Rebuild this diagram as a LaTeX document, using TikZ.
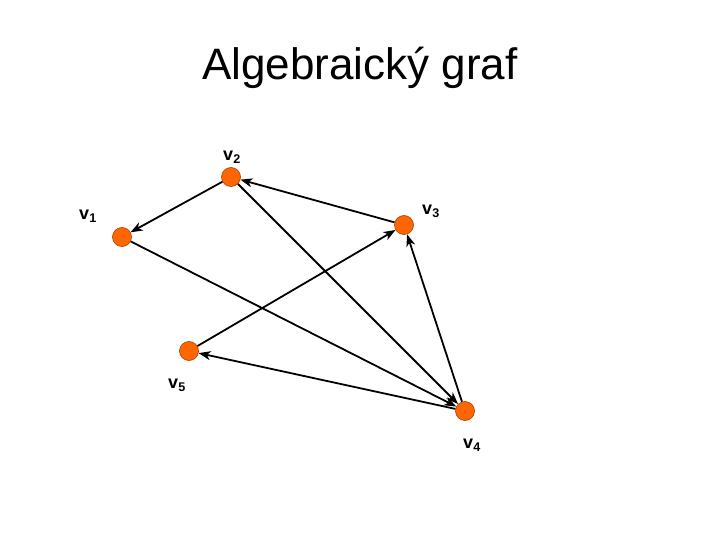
\documentclass[tikz,border=0pt]{standalone}
\usepackage{fontspec}
\setmainfont{Liberation Sans}
\usepackage{tikz}
\usetikzlibrary{arrows.meta}
\definecolor{vxorange}{RGB}{255,102,0}
\definecolor{vxedge}{RGB}{170,60,0}

\begin{document}
\begin{tikzpicture}[x=1pt, y=-1pt,
    vertex/.style={circle, draw=vxedge, fill=vxorange, line width=0.6pt,
                 minimum size=19pt, inner sep=0pt},
    vlabel/.style={font=\fontsize{18}{20}\selectfont\bfseries, inner sep=0pt},
    arr/.style={-{Stealth[length=12pt, width=9pt, inset=3.5pt]}, line width=1.8pt, black}
]
    \useasboundingbox (0,0) rectangle (720,540);
    \node[font=\fontsize{44}{50}\selectfont] (title) at (360,68) {Algebraický graf};

    \node[vertex] (v1) at (122,237) {};
    \node[vertex] (v2) at (231,177) {};
    \node[vertex] (v3) at (404,225) {};
    \node[vertex] (v4) at (465,411) {};
    \node[vertex] (v5) at (189,351) {};

    \node[vlabel] (l1) at (88,216) {v\textsubscript{1}};
    \node[vlabel] (l2) at (232,157) {v\textsubscript{2}};
    \node[vlabel] (l3) at (431,211) {v\textsubscript{3}};
    \node[vlabel] (l4) at (472,445) {v\textsubscript{4}};
    \node[vlabel] (l5) at (177,385) {v\textsubscript{5}};

    \draw[arr] (v3) -- (v2);
    \draw[arr] (v2) -- (v1);
    \draw[arr] (v1) -- (v4);
    \draw[arr] (v2) -- (v4);
    \draw[arr] (v5) -- (v3);
    \draw[arr] (v4) -- (v3);
    \draw[arr] (v4) -- (v5);
\end{tikzpicture}
\end{document}
